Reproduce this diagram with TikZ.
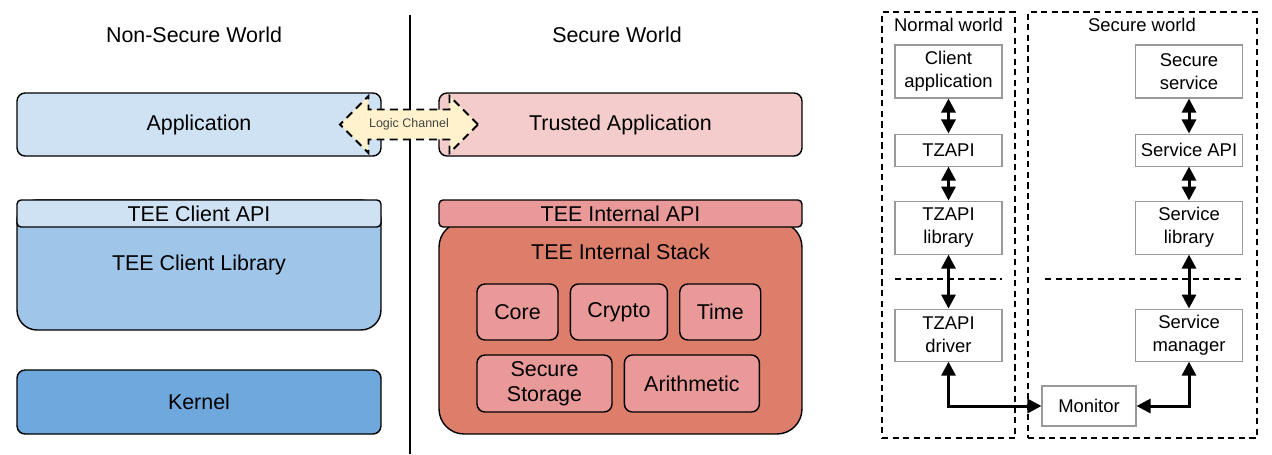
\documentclass[tikz,border=0pt]{standalone}
\usepackage{fontspec}
\setmainfont{Liberation Sans}
\usepackage{tikz}
\usetikzlibrary{shapes.arrows, arrows.meta, positioning}

\definecolor{appblue}{HTML}{CFE2F3}
\definecolor{libblue}{HTML}{9FC5E8}
\definecolor{kernblue}{HTML}{6FA8DC}
\definecolor{tapink}{HTML}{F4CCCC}
\definecolor{apired}{HTML}{EA9999}
\definecolor{stackred}{HTML}{DD7E6B}
\definecolor{chanyellow}{HTML}{FFF2CC}
\definecolor{boxgray}{HTML}{999999}
\definecolor{chantext}{HTML}{444444}

\begin{document}
\begin{tikzpicture}[
                x=0.02cm, y=-0.02cm,
                big/.style={font=\fontsize{12.2}{14.2}\selectfont},
                small/.style={font=\fontsize{10.5}{13}\selectfont},
                layer/.style={rectangle, draw=black, line width=0.8pt, rounded corners=0.16cm, big, minimum width=7.28cm, align=center, inner sep=2pt},
                bar/.style={layer, rounded corners=0.08cm, minimum height=0.54cm},
                part/.style={rectangle, draw=black, line width=0.8pt, fill=apired, rounded corners=0.16cm, big, align=center, inner sep=2pt},
                chan/.style={double arrow, double arrow head extend=0.27cm, draw=black, line width=1.1pt, dash pattern=on 4.5pt off 3pt, fill=chanyellow, text=chantext, font=\fontsize{7.1}{8}\selectfont, minimum height=2.76cm, inner xsep=2pt, inner ysep=0.164cm},
                world/.style={rectangle, draw=black, line width=0.7pt, dash pattern=on 3.5pt off 2.5pt, minimum height=8.52cm},
                tzbox/.style={rectangle, draw=boxgray, line width=0.6pt, fill=white, small, align=center, minimum width=2.14cm, inner sep=1pt},
                sep/.style={line width=0.7pt, dash pattern=on 3.5pt off 2.5pt},
                arrow/.style={{Triangle[width=8pt,length=8pt]}-{Triangle[width=8pt,length=8pt]}, line width=1.7pt}
            ]
                \useasboundingbox (0,0) rectangle (1272,454);

                % left: GlobalPlatform TEE
                \node[big] (nstitle) at (194,35) {Non-Secure World};
                \node[big] (stitle) at (617,35) {Secure World};

                \coordinate (divtop) at (410,15);
                \coordinate (divbot) at (410,454);
                \draw[line width=0.8pt] (divtop) -- (divbot);

                \node[layer, fill=appblue, minimum height=1.26cm] (app) at (199,124.5) {Application};
                \node[layer, fill=tapink, minimum width=7.26cm, minimum height=1.26cm] (ta) at (620.5,124.5) {Trusted Application};
                \node[chan] (logic) at (409,124.5) {Logic Channel};

                \node[layer, fill=libblue, rounded corners=0.4cm, minimum height=2.6cm] (clientlib) at (199,265) {TEE Client Library};
                \node[bar, fill=appblue] (clientapi) at (199,213.5) {TEE Client API};
                \node[layer, fill=kernblue, minimum height=1.28cm] (kernel) at (199,402) {Kernel};

                \node[layer, fill=stackred, rounded corners=0.5cm, minimum width=7.26cm, minimum height=4.24cm] (stack) at (620.5,328) {};
                \node[bar, fill=apired, minimum width=7.26cm] (intapi) at (620.5,213.5) {TEE Internal API};
                \node[big] (stacktitle) at (620.5,252) {TEE Internal Stack};

                \node[part, minimum width=1.62cm, minimum height=1.12cm] (core) at (517.5,312) {Core};
                \node[part, minimum width=1.94cm, minimum height=1.12cm, right=0.22cm of core] (crypto) {Crypto};
                \node[part, minimum width=1.62cm, minimum height=1.12cm, right=0.22cm of crypto] (time) {Time};
                \node[part, minimum width=2.7cm, minimum height=1.14cm] (storage) at (544.5,383.5) {Secure\\Storage};
                \node[part, minimum width=2.7cm, minimum height=1.14cm, right=0.22cm of storage] (arith) {Arithmetic};

                % right: TrustZone API
                \node[world, minimum width=2.66cm] (normal) at (948.5,225) {};
                \node[world, minimum width=4.58cm] (secure) at (1142.5,225) {};
                \node[small] (normaltitle) at (948.5,25) {Normal world};
                \node[small] (securetitle) at (1142,25) {Secure world};

                \node[tzbox, minimum height=1.06cm] (client) at (948.5,71.5) {Client\\application};
                \node[tzbox, minimum height=0.64cm, below=0.7cm of client] (tzapi) {TZAPI};
                \node[tzbox, minimum height=1.06cm, below=0.68cm of tzapi] (tzlib) {TZAPI\\library};
                \node[tzbox, minimum height=1.04cm, below=1.08cm of tzlib] (tzdrv) {TZAPI\\driver};

                \node[tzbox, minimum height=1.06cm] (service) at (1189,71.5) {Secure\\service};
                \node[tzbox, minimum height=0.64cm, below=0.7cm of service] (svcapi) {Service API};
                \node[tzbox, minimum height=1.06cm, below=0.68cm of svcapi] (svclib) {Service\\library};
                \node[tzbox, minimum height=1.04cm, below=1.08cm of svclib] (svcmgr) {Service\\manager};

                \node[tzbox, minimum width=1.88cm, minimum height=0.8cm] (monitor) at (1089,406) {Monitor};

                \draw[sep] (895,279) -- (1002,279);
                \draw[sep] (1045,279) -- (1242,279);

                \draw[arrow] (client) -- (tzapi);
                \draw[arrow] (tzapi) -- (tzlib);
                \draw[arrow] (tzlib) -- (tzdrv);
                \draw[arrow] (service) -- (svcapi);
                \draw[arrow] (svcapi) -- (svclib);
                \draw[arrow] (svclib) -- (svcmgr);
                \draw[arrow] (tzdrv.south) |- (monitor.west);
                \draw[arrow] (svcmgr.south) |- (monitor.east);
            \end{tikzpicture}
\end{document}
